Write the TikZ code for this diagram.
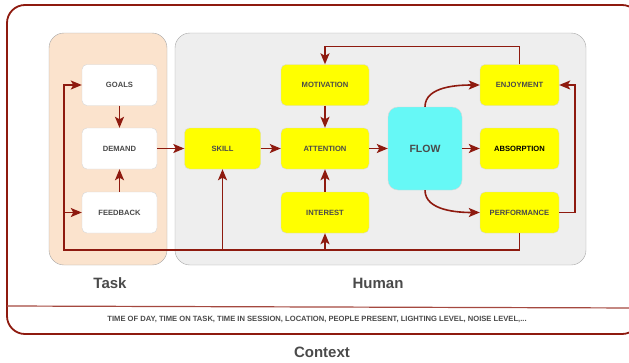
\documentclass[tikz,border=0pt]{standalone}
\usepackage{fontspec}
\setmainfont{Liberation Sans}
\setsansfont{Liberation Sans}
\usepackage{tikz}
\usetikzlibrary{arrows.meta, positioning, calc}
\definecolor{granate}{HTML}{8E1A0F}
\definecolor{melocoton}{HTML}{FBE3CD}
\definecolor{niebla}{HTML}{EEEEEE}
\definecolor{borde}{HTML}{D6D6D6}
\definecolor{tinta}{HTML}{4A4A4A}
\definecolor{amarillo}{HTML}{FFFF00}
\definecolor{turquesa}{HTML}{66F8F6}
\tikzset{
  every picture/.style={font=\sffamily, >={Stealth[length=11pt, width=9pt, inset=2.5pt]}},
  white/.style={draw=borde, fill=white, text=tinta, rounded corners=5pt,
                minimum width=75pt, minimum height=41pt, font=\sffamily\fontsize{7.6}{9}\selectfont\bfseries},
  factor/.style={white, fill=amarillo, minimum width=76pt},
  wide/.style={factor, minimum width=88pt},
  flowbox/.style={draw=borde, fill=turquesa, text=tinta, rounded corners=10pt,
                  minimum width=74pt, minimum height=83pt, font=\sffamily\fontsize{10.5}{12}\selectfont\bfseries},
  panel/.style={draw=gray!70, rounded corners=15pt},
  title/.style={text=tinta, font=\sffamily\fontsize{15}{18}\selectfont\bfseries},
  link/.style={->, granate, line width=1.6pt},
}

\begin{document}
\begin{tikzpicture}[x=1pt, y=-1pt]
  \useasboundingbox (0,0) rectangle (629,362);
  \clip (0,0) rectangle (629,362);
  % context frame
  \draw[granate, line width=1.8pt, rounded corners=18pt] (7,5) rectangle (640,334);
  \draw[granate!80, line width=1.2pt] (7,306) -- (640,308);
  \node[font=\sffamily\fontsize{7.6}{9}\selectfont\bfseries, text=tinta] (ctxt) at (317,319)
    {TIME OF DAY, TIME ON TASK, TIME IN SESSION, LOCATION, PEOPLE PRESENT, LIGHTING LEVEL, NOISE LEVEL,...};
  \node[title] (context) at (322,352) {Context};

  % panels
  \draw[panel, fill=melocoton] (49,33) rectangle (167,265);
  \draw[panel, fill=niebla] (175,33) rectangle (586,265);
  \node[title] (task) at (110,283) {Task};
  \node[title] (human) at (378,283) {Human};

  % task side
  \node[white] (goals) at (119.5,85) {GOALS};
  \node[white] (demand) at (119.5,148.5) {DEMAND};
  \node[white] (feedback) at (119.5,212.5) {FEEDBACK};

  % human side
  \node[factor] (skill) at (222.5,148.5) {SKILL};
  \node[wide] (motivation) at (325,85) {MOTIVATION};
  \node[wide] (attention) at (325,148.5) {ATTENTION};
  \node[wide] (interest) at (325,212.5) {INTEREST};
  \node[flowbox] (flow) at (425,148.5) {FLOW};
  \node[factor, minimum width=79pt] (enjoyment) at (519.5,85) {ENJOYMENT};
  \node[factor, minimum width=79pt, text=black] (absorption) at (519.5,148.5) {ABSORPTION};
  \node[factor, minimum width=79pt] (performance) at (519.5,212.5) {PERFORMANCE};

  \coordinate (loop) at (64,250);

  % connectors
  \draw[link] (goals) -- (demand);
  \draw[link] (feedback) -- (demand);
  \draw[link] (demand) -- (skill);
  \draw[link] (skill) -- (attention);
  \draw[link] (motivation) -- (attention);
  \draw[link] (interest) -- (attention);
  \draw[link] (attention) -- (flow);
  \draw[link] (flow) -- (absorption);
  \draw[link] (flow.north) to[out=90, in=180, looseness=0.9] (enjoyment.west);
  \draw[link] (flow.south) to[out=-90, in=180, looseness=0.9] (performance.west);
  \draw[link] (enjoyment.north) -- ++(0,-18) -| (motivation.north);
  \draw[link] (performance.east) -- ++(16,0) |- (enjoyment.east);
  \draw[link] (performance.south) |- (loop) |- (goals.west);
  \draw[link] (loop |- feedback.west) -- (feedback.west);
  \draw[link] (loop -| skill.south) -- (skill.south);
  \draw[link] (loop -| interest.south) -- (interest.south);
\end{tikzpicture}
\end{document}
